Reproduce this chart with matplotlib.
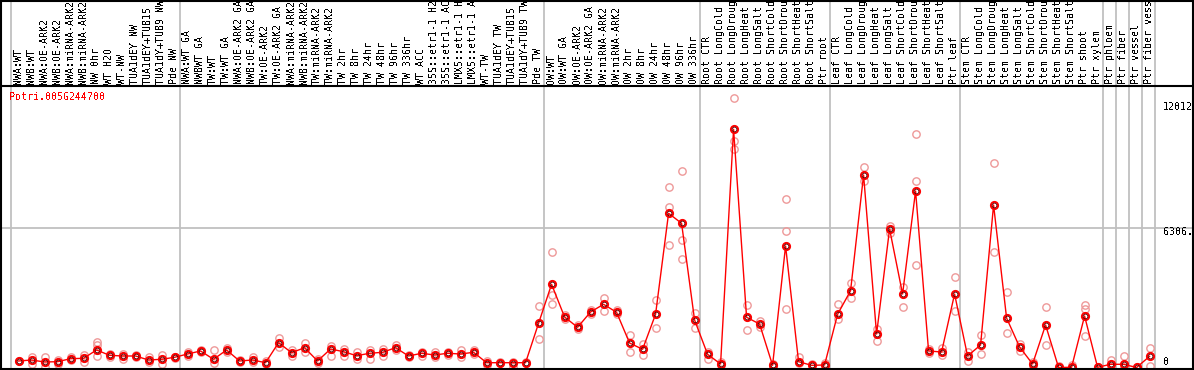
import matplotlib
matplotlib.use("Agg")
import matplotlib.pyplot as plt
from matplotlib.lines import Line2D

plt.rcParams["text.antialiased"] = False

samples = [
    "NWA:WT", "NWB:WT", "NWA:OE-ARK2", "NWB:OE-ARK2", "NWA:miRNA-ARK2", "NWB:miRNA-ARK2",
    "NW 0hr", "WT H2O", "WT-NW", "TUA1dEY NW", "TUA1dEY+TUB15", "TUA1dY+TUB9 NW", "Pde NW",
    "NWA:WT GA", "NWBWT GA", "TW:WT", "TW:WT GA", "NWA:OE-ARK2 GA", "NWB:OE-ARK2 GA",
    "TW:OE-ARK2", "TW:OE-ARK2 GA", "NWA:miRNA-ARK2", "NWB:miRNA-ARK2", "TW:miRNA-ARK2",
    "TW:miRNA-ARK2", "TW 2hr", "TW 8hr", "TW 24hr", "TW 48hr", "TW 96hr", "TW 336hr",
    "WT ACC", "35S::etr1-1 H2", "35S::etr1-1 AC", "LMX5::etr1-1 H", "LMX5::etr1-1 A",
    "WT-TW", "TUA1dEY TW", "TUA1dEY+TUB15", "TUA1dY+TUB9 TW", "Pde TW",
    "OW:WT", "OW:WT GA", "OW:OE-ARK2", "OW:OE-ARK2 GA", "OW:miRNA-ARK2", "OW:miRNA-ARK2",
    "OW 2hr", "OW 8hr", "OW 24hr", "OW 48hr", "OW 96hr", "OW 336hr",
    "Root CTR", "Root LongCold", "Root LongDroug", "Root LongHeat", "Root LongSalt",
    "Root ShortCold", "Root ShortDrou", "Root ShortHeat", "Root ShortSalt", "Ptr root",
    "Leaf CTR", "Leaf LongCold", "Leaf LongDroug", "Leaf LongHeat", "Leaf LongSalt",
    "Leaf ShortCold", "Leaf ShortDrou", "Leaf ShortHeat", "Leaf ShortSalt", "Ptr leaf",
    "Stem CTR", "Stem LongCold", "Stem LongDroug", "Stem LongHeat", "Stem LongSalt",
    "Stem ShortCold", "Stem ShortDrou", "Stem ShortHeat", "Stem ShortSalt", "Ptr shoot",
    "Ptr xylem", "Ptr phloem", "Ptr fiber", "Ptr vessel", "Ptr fiber vess",
]

mean_values = [
    294, 339, 249, 262, 398, 416, 791, 551, 520, 520, 339, 371, 461,
    610, 746, 371, 791, 294, 339, 217, 1121, 669, 895, 294, 836, 714, 533, 642,
    687, 895, 520, 642, 565, 642, 610, 687, 217, 217, 217, 217, 1998,
    3761, 2283, 1817, 2509, 2857, 2495, 1107, 823, 2405, 6970, 6518, 2147,
    597, 158, 10767, 2269, 1966, 99, 5492, 262, 99, 113,
    2405, 3471, 8701, 1514, 6260, 3322, 7978, 746, 701, 3322,
    520, 1017, 7345, 2237, 927, 158, 1921, 0, 9, 2328,
    9, 145, 145, 0, 506,
]

replicates = [
    (294,), (488, 158), (488, 23), (339, 158), (452, 339), (565, 262),
    (1166, 1017, 520), (610, 475), (610, 371), (565, 475), (461, 249), (565, 145), (497, 429),
    (678, 520), (791, 701), (791, 217), (895, 714), (339, 249), (488, 262), (294, 158),
    (1347, 940), (791, 533), (1121, 687), (384, 203), (985, 533), (836, 533), (687, 371),
    (791, 371), (823, 533), (1017, 791), (565, 475), (701, 533), (687, 475), (701, 565),
    (791, 488), (791, 610), (307, 113), (249, 181), (249, 0), (249, 181), (2780, 1275),
    (5221, 3277, 2857), (2373, 2192), (1921, 1740), (2599, 2418), (3155, 2540), (2599, 2418),
    (1469, 714), (1049, 565), (3051, 1772), (8145, 7268, 5523), (8895, 5763, 4890), (2450, 1799),
    (714, 384), (271, 113), (12168, 10238, 9859), (2811, 1695), (2115, 1817), (158, 23),
    (7603, 6183, 2631), (488, 203), (136,), (181,),
    (2870, 2192), (3806, 3128), (9063, 8430), (1740, 1198), (6375, 6079), (3639, 2735),
    (10553, 8430, 4633), (836, 655), (881, 565), (4091, 2554),
    (701, 294), (1469, 610), (9243, 5221), (3413, 1559), (1062, 746), (249, 68),
    (2735, 1017), (68,), (113,), (2811, 2631, 1437),
    (9,), (339, 9), (520, 9), (0,), (868, 81),
]

group_breaks = [0, 13, 41, 53, 63, 73, 84, 85, 86, 87, 88]
title = "Potri.005G244700"
axis_marks = ["12012", "6306.", "0"]
grid_value = 6306

W, H = 1194, 370
fig = plt.figure(figsize=(W / 100, H / 100), dpi=100)
fig.patch.set_facecolor("white")

ax_top_px, ax_bot_px = 86, 369
ax = fig.add_axes([1 / W, (H - ax_bot_px) / H, 1192 / W, (ax_bot_px - ax_top_px) / H])
ax.set_xlim(-0.731, 90.96)
ax.set_ylim(-68, 12724)
ax.set_axis_off()

font = "DejaVu Sans Mono"
fs = 7.2

ymax_full = (ax_bot_px - 0) / (ax_bot_px - ax_top_px)
for gb in group_breaks:
    ax.axvline(gb, ymin=0, ymax=ymax_full, color="#c0c0c0", lw=1.3, clip_on=False, zorder=0)
ax.axhline(grid_value, color="#c0c0c0", lw=1.3, zorder=0)

xs = [i + 0.62 for i in range(len(samples))]

# replicate points
rx, ry = [], []
for x, reps in zip(xs, replicates):
    for r in reps:
        rx.append(x)
        ry.append(r)
ax.plot(rx, ry, ls="none", marker="o", ms=5.3, mfc="none", mec="#ee9999", mew=1.0,
        clip_on=False, zorder=2)

# mean line and points
ax.plot(xs, mean_values, color="#ff0000", lw=1.0, zorder=3, clip_on=False)
ax.plot(xs, mean_values, ls="none", marker="o", ms=5.2, mfc="none", mec="#ff0000", mew=1.4,
        zorder=4, clip_on=False)
ax.plot(xs, mean_values, ls="none", marker="o", ms=3.4, mfc="none", mec="#550000", mew=0.6,
        zorder=5, clip_on=False)

# sample labels (rotated)
label_y = 1 + 2 / (ax_bot_px - ax_top_px)
trans = ax.get_xaxis_transform()
for x, s in zip(xs, samples):
    ax.text(x - 0.05, label_y, s, rotation=90, ha="center", va="bottom", family=font,
            fontsize=fs, color="black", transform=trans, clip_on=False)

# title
ax.text(8.5 / 1192, (ax_bot_px - 97) / (ax_bot_px - ax_top_px), title,
        transform=ax.transAxes, ha="left", va="center", family=font, fontsize=fs, color="red")

# right-hand value marks
mark_px = [107, 232, 362]
for s, py in zip(axis_marks, mark_px):
    ax.text((1163 - 1) / 1192, (ax_bot_px - py) / (ax_bot_px - ax_top_px), s,
            transform=ax.transAxes, ha="left", va="center", family=font, fontsize=fs,
            color="black")

# frame lines
def fline(x0, y0, x1, y1):
    fig.add_artist(Line2D([x0 / W, x1 / W], [1 - y0 / H, 1 - y1 / H], color="black",
                          lw=1.5, transform=fig.transFigure))

fline(1, 0, 1, 370)
fline(1193, 0, 1193, 370)
fline(0, 0.5, 1194, 0.5)
fline(0, 369.3, 1194, 369.3)
fline(0, 86, 1194, 86)

fig.savefig("out.png", dpi=100, facecolor="white")
